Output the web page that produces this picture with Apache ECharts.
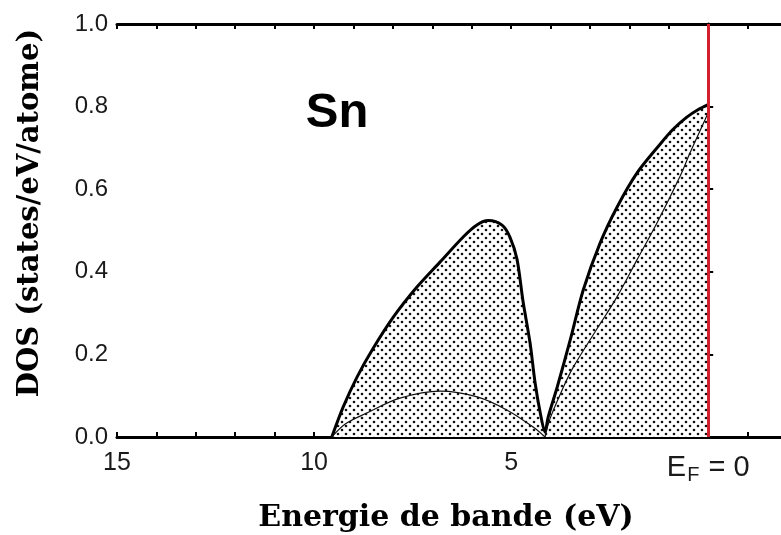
<!DOCTYPE html>
<html>
<head>
<meta charset="utf-8">
<script src="https://cdn.jsdelivr.net/npm/echarts@6/dist/echarts.min.js"></script>
<style>
html,body{margin:0;padding:0;background:#fff;}
#chart{width:781px;height:535px;}
</style>
</head>
<body>
<div id="chart"></div>
<script>
// ---- Data (energy in eV, DOS in states/eV/atome) ----
const outerE   = [9.55, 9.26, 8.91, 8.53, 7.99, 7.39, 6.80, 6.21, 5.86, 5.58, 5.23, 5.03, 4.85, 4.70, 4.52, 4.39, 4.26, 4.14, 4.06, 3.83, 3.50, 3.17, 2.74, 2.31, 1.80, 1.22, 0.89, 0.55, 0.25, 0.0];
const outerDOS = [0.0, 0.073, 0.145, 0.21, 0.29, 0.363, 0.424, 0.485, 0.514, 0.524, 0.513, 0.484, 0.43, 0.33, 0.228, 0.13, 0.058, 0.012, 0.048, 0.121, 0.235, 0.356, 0.47, 0.557, 0.64, 0.709, 0.745, 0.774, 0.793, 0.805];

const thinAE   = [9.55, 9.20, 8.66, 7.82, 6.80, 5.86, 5.10, 4.44, 4.14];
const thinADOS = [0.0, 0.032, 0.058, 0.094, 0.111, 0.097, 0.065, 0.024, 0.0];

const thinBE   = [4.14, 4.01, 3.70, 3.43, 2.82, 2.31, 1.80, 1.29, 0.71, 0.46, 0.08, 0.0];
const thinBDOS = [0.0, 0.045, 0.115, 0.168, 0.262, 0.340, 0.430, 0.520, 0.632, 0.688, 0.768, 0.785];

const fermiLevel = 0;
const xTickLabels = {15: '15', 10: '10', 5: '5'};

function zip(a, b) { return a.map((v, i) => [v, b[i]]); }

// stipple pattern
const pc = document.createElement('canvas');
pc.width = 8; pc.height = 8;
const pctx = pc.getContext('2d');
pctx.fillStyle = '#ffffff';
pctx.fillRect(0, 0, 8, 8);
pctx.fillStyle = '#111111';
[[2, 2], [6, 6]].forEach(p => { pctx.beginPath(); pctx.arc(p[0], p[1], 1.3, 0, Math.PI * 2); pctx.fill(); });

const chart = echarts.init(document.getElementById('chart'), null, {renderer: 'canvas'});

const xBase = {
  type: 'value', min: -2, max: 15, interval: 1, inverse: true,
  axisLine: {show: true, onZero: false, lineStyle: {color: '#000', width: 3}},
  axisTick: {show: true, inside: true, length: 5, lineStyle: {color: '#000', width: 2}},
  splitLine: {show: false}
};

chart.setOption({
  animation: false,
  backgroundColor: '#fff',
  grid: {left: 117, right: -6, top: 24, bottom: 98, containLabel: false, outerBoundsMode: 'none'},
  xAxis: [
    Object.assign({}, xBase, {
      position: 'bottom',
      axisLabel: {
        show: true, margin: 14, color: '#1a1a1a', fontFamily: 'Liberation Sans', fontSize: 25,
        formatter: function (v) {
          if (v === fermiLevel) return '{e|E}{f|F}{e| = 0}';
          return xTickLabels[v] || '';
        },
        rich: {
          e: {fontSize: 29, fontFamily: 'Liberation Sans', color: '#1a1a1a'},
          f: {fontSize: 20, fontFamily: 'Liberation Sans', color: '#1a1a1a', padding: [14, 1, 0, 1]}
        }
      }
    }),
    Object.assign({}, xBase, {position: 'top', axisLabel: {show: false}})
  ],
  yAxis: {
    type: 'value', min: 0, max: 1, interval: 0.2,
    axisLine: {show: true, lineStyle: {color: '#000', width: 3}},
    axisTick: {show: true, inside: true, length: 5, lineStyle: {color: '#000', width: 2}},
    splitLine: {show: false},
    axisLabel: {
      margin: 9, color: '#1a1a1a', fontFamily: 'Liberation Sans', fontSize: 24,
      formatter: v => v.toFixed(1)
    }
  },
  series: [
    {
      type: 'line', data: zip(outerE, outerDOS), symbol: 'none', smooth: 0.3,
      lineStyle: {color: '#000', width: 3},
      areaStyle: {color: {image: pc, repeat: 'repeat'}, opacity: 1},
      z: 3
    },
    {
      type: 'line', data: zip(thinAE, thinADOS), symbol: 'none', smooth: 0.35,
      lineStyle: {color: '#111', width: 1.2}, z: 4
    },
    {
      type: 'line', data: zip(thinBE, thinBDOS), symbol: 'none', smooth: 0.35,
      lineStyle: {color: '#111', width: 1.2}, z: 4
    },
    {
      type: 'line', data: [], z: 5,
      markLine: {
        silent: true, symbol: 'none', animation: false,
        label: {show: false},
        lineStyle: {color: '#d3202c', width: 3, type: 'solid'},
        data: [[{coord: [fermiLevel, 0]}, {coord: [fermiLevel, 1]}]]
      }
    }
  ],
  graphic: [
    {
      type: 'text', x: 337, y: 113,
      style: {text: 'Sn', font: 'bold 49px "Liberation Sans"', fill: '#000', textAlign: 'center', textVerticalAlign: 'middle'}
    },
    {
      type: 'text', x: 446, y: 518,
      style: {text: 'Energie de bande (eV)', font: 'bold 30px "DejaVu Serif"', fill: '#000', textAlign: 'center', textVerticalAlign: 'middle'}
    },
    {
      type: 'text', x: 30, y: 213, rotation: Math.PI / 2,
      style: {text: 'DOS (states/eV/atome)', font: 'bold 29px "DejaVu Serif"', fill: '#000', textAlign: 'center', textVerticalAlign: 'middle'}
    }
  ]
});
</script>
</body>
</html>
